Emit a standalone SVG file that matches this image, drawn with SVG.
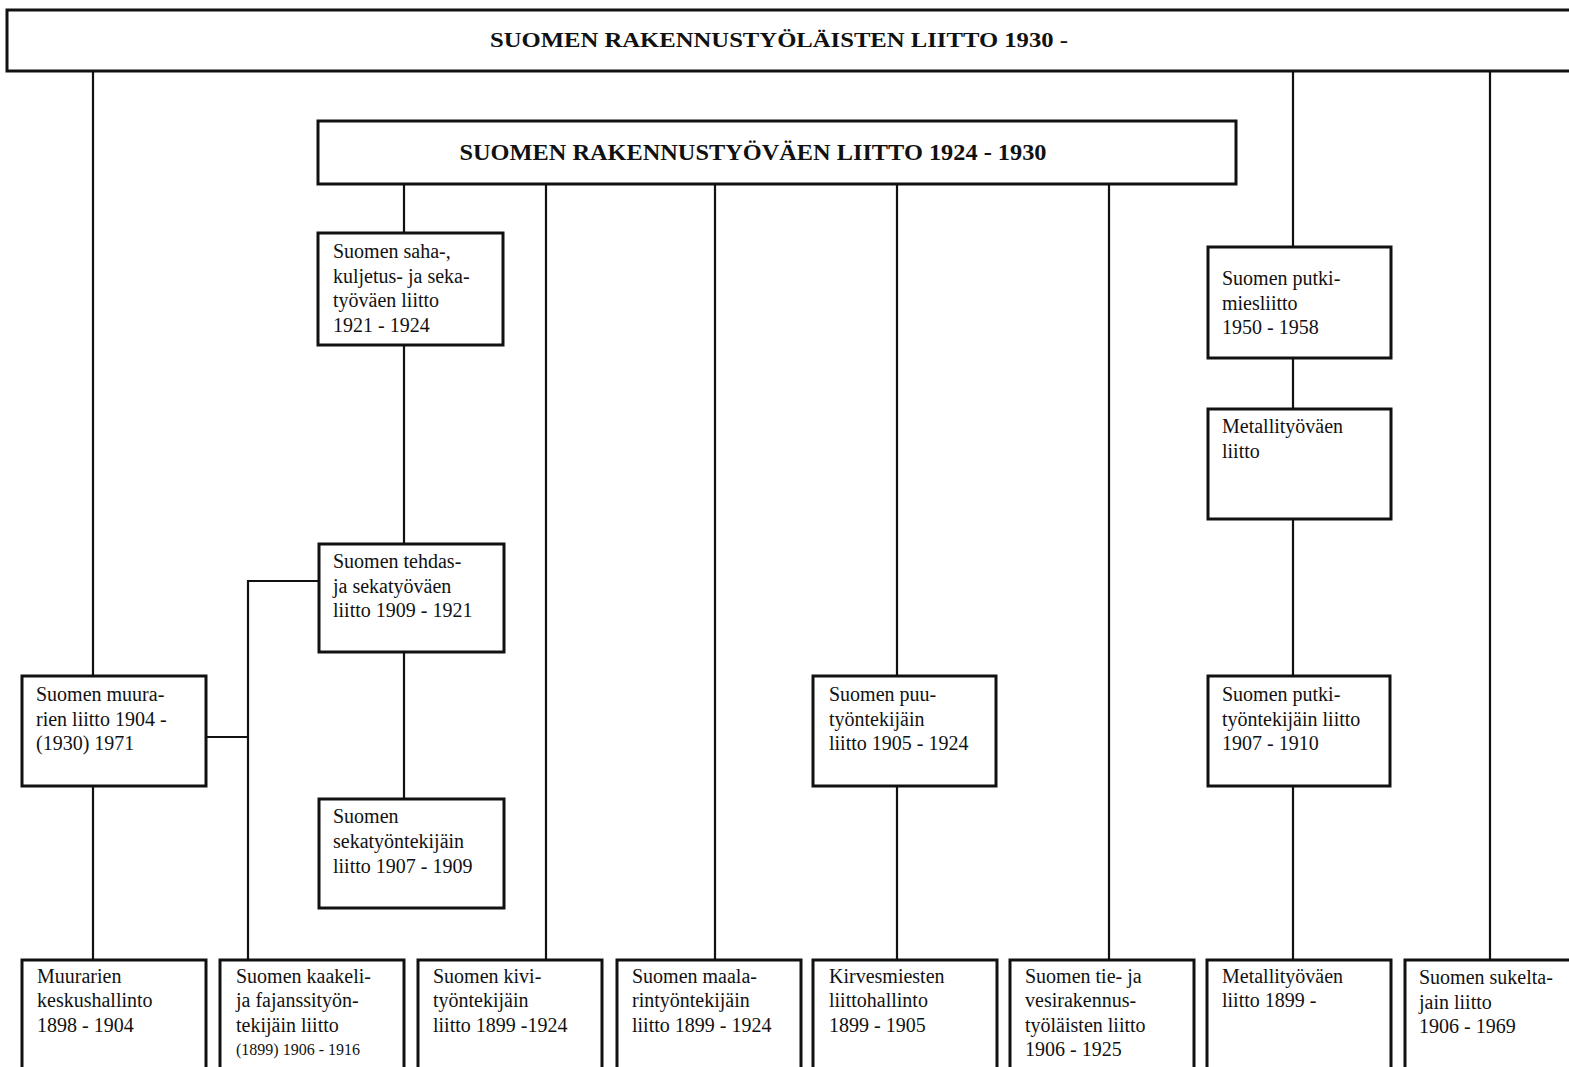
<svg xmlns="http://www.w3.org/2000/svg" width="1569" height="1067" viewBox="0 0 1569 1067">
<style>
.box{fill:#fff;stroke:#111;stroke-width:3}
.ln{stroke:#111;stroke-width:2.2;fill:none}
text{font-family:"Liberation Serif","Times New Roman",serif;fill:#111;font-size:20px}
.h{font-weight:bold;text-anchor:middle}
.s{font-size:16px}
</style>
<rect width="1569" height="1067" fill="#fff"/>
<g id="connectors">
<path class="ln" d="M93 71V676M93 786V960"/>
<path class="ln" d="M1293 71V247M1293 358V409M1293 519V676M1293 786V960"/>
<path class="ln" d="M1490 71V960"/>
<path class="ln" d="M404 184V233M404 345V543M404 652V798"/>
<path class="ln" d="M546 184V960M715 184V960M1109 184V960"/>
<path class="ln" d="M897 184V676M897 786V960"/>
<path class="ln" d="M319 581H248V960M206 737H248"/>
</g>
<g id="n-top">
<rect class="box" x="7" y="10" width="1580" height="61"/>
<text class="h" x="779" y="47" font-size="23" textLength="578" lengthAdjust="spacingAndGlyphs">SUOMEN RAKENNUSTYÖLÄISTEN LIITTO  1930 -</text>
</g>
<g id="n-1924">
<rect class="box" x="318" y="121" width="918" height="63"/>
<text class="h" x="753" y="160" style="font-size:24px" textLength="587" lengthAdjust="spacingAndGlyphs">SUOMEN RAKENNUSTYÖVÄEN LIITTO 1924 - 1930</text>
</g>
<g id="n-saha">
<rect class="box" x="318" y="233" width="185" height="112"/>
<text x="333" y="258">Suomen saha-,</text>
<text x="333" y="282.5">kuljetus- ja seka-</text>
<text x="333" y="307">työväen liitto</text>
<text x="333" y="331.5">1921 - 1924</text>
</g>
<g id="n-tehdas">
<rect class="box" x="319" y="544" width="185" height="108"/>
<text x="333" y="568">Suomen tehdas-</text>
<text x="333" y="592.5">ja sekatyöväen</text>
<text x="333" y="617">liitto 1909 - 1921</text>
</g>
<g id="n-seka">
<rect class="box" x="319" y="799" width="185" height="109"/>
<text x="333" y="823">Suomen</text>
<text x="333" y="848">sekatyöntekijäin</text>
<text x="333" y="873">liitto 1907 - 1909</text>
</g>
<g id="n-muurari">
<rect class="box" x="22" y="676" width="184" height="110"/>
<text x="36" y="701">Suomen muura-</text>
<text x="36" y="725.5">rien liitto 1904 -</text>
<text x="36" y="750">(1930) 1971</text>
</g>
<g id="n-puu">
<rect class="box" x="813" y="676" width="183" height="110"/>
<text x="829" y="701">Suomen puu-</text>
<text x="829" y="725.5">työntekijäin</text>
<text x="829" y="750">liitto 1905 - 1924</text>
</g>
<g id="n-putkimies">
<rect class="box" x="1208" y="247" width="183" height="111"/>
<text x="1222" y="285">Suomen putki-</text>
<text x="1222" y="309.5">miesliitto</text>
<text x="1222" y="334">1950 - 1958</text>
</g>
<g id="n-metalli">
<rect class="box" x="1208" y="409" width="183" height="110"/>
<text x="1222" y="433">Metallityöväen</text>
<text x="1222" y="457.5">liitto</text>
</g>
<g id="n-putkityo">
<rect class="box" x="1208" y="676" width="182" height="110"/>
<text x="1222" y="701">Suomen putki-</text>
<text x="1222" y="725.5">työntekijäin liitto</text>
<text x="1222" y="750">1907 - 1910</text>
</g>
<g id="n-muurarien-kesk">
<rect class="box" x="22" y="960" width="184" height="112"/>
<text x="37" y="983">Muurarien</text>
<text x="37" y="1007">keskushallinto</text>
<text x="37" y="1031.5">1898 - 1904</text>
</g>
<g id="n-kaakeli">
<rect class="box" x="220" y="960" width="184" height="112"/>
<text x="236" y="983">Suomen kaakeli-</text>
<text x="236" y="1007">ja fajanssityön-</text>
<text x="236" y="1031.5">tekijäin liitto</text>
<text class="s" x="236" y="1055">(1899) 1906 - 1916</text>
</g>
<g id="n-kivi">
<rect class="box" x="418" y="960" width="184" height="112"/>
<text x="433" y="983">Suomen kivi-</text>
<text x="433" y="1007">työntekijäin</text>
<text x="433" y="1031.5">liitto 1899 -1924</text>
</g>
<g id="n-maalari">
<rect class="box" x="617" y="960" width="184" height="112"/>
<text x="632" y="983">Suomen maala-</text>
<text x="632" y="1007">rintyöntekijäin</text>
<text x="632" y="1031.5">liitto 1899 - 1924</text>
</g>
<g id="n-kirvesmies">
<rect class="box" x="813" y="960" width="184" height="112"/>
<text x="829" y="983">Kirvesmiesten</text>
<text x="829" y="1007">liittohallinto</text>
<text x="829" y="1031.5">1899 - 1905</text>
</g>
<g id="n-tievesi">
<rect class="box" x="1010" y="960" width="184" height="112"/>
<text x="1025" y="983">Suomen tie- ja</text>
<text x="1025" y="1007">vesirakennus-</text>
<text x="1025" y="1031.5">työläisten liitto</text>
<text x="1025" y="1056">1906 - 1925</text>
</g>
<g id="n-metalli1899">
<rect class="box" x="1207" y="960" width="184" height="112"/>
<text x="1222" y="983">Metallityöväen</text>
<text x="1222" y="1007">liitto 1899 -</text>
</g>
<g id="n-sukelta">
<rect class="box" x="1405" y="960" width="184" height="112"/>
<text x="1419" y="984">Suomen sukelta-</text>
<text x="1419" y="1008.5">jain liitto</text>
<text x="1419" y="1033">1906 - 1969</text>
</g>
</svg>
